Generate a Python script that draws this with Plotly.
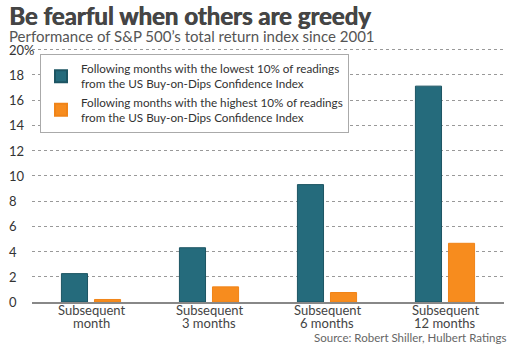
import plotly.graph_objects as go

categories = ["Subsequent<br>month", "Subsequent<br>3 months", "Subsequent<br>6 months", "Subsequent<br>12 months"]
lowest_vals = [2.25, 4.3, 9.3, 17.1]
highest_vals = [0.2, 1.2, 0.75, 4.65]
series_names = [
    "Following months with the lowest 10% of readings<br>from the US Buy-on-Dips Confidence Index",
    "Following months with the highest 10% of readings<br>from the US Buy-on-Dips Confidence Index",
]
y_tick_vals = [0, 2, 4, 6, 8, 10, 12, 14, 16, 18, 20]
y_tick_text = ["0", "2", "4", "6", "8", "10", "12", "14", "16", "18", "20%"]

TEAL = "#256B7C"
ORANGE = "#F78C1E"
FONT = "Lato"

fig = go.Figure()
fig.add_trace(go.Bar(x=categories, y=lowest_vals, name=series_names[0],
                     marker=dict(color=TEAL, line=dict(color="#1d5563", width=1))))
fig.add_trace(go.Bar(x=categories, y=highest_vals, name=series_names[1],
                     marker=dict(color=ORANGE, line=dict(color="#f08418", width=1))))

H = 345; W = 512
YMAX = 20.2
ml, mr, mb = 32, 8, 43
mt = (H - mb) - 252 * YMAX / 20.0
ph = H - mt - mb
pw = W - ml - mr
def py(pix):
    return (H - mb - pix) / ph
def px(pix):
    return (pix - ml) / pw

annotations = [
    dict(text="<b>Be fearful when others are greedy</b>", xref="paper", yref="paper",
         x=px(7), y=py(16), xanchor="left", yanchor="middle", showarrow=False,
         font=dict(family=FONT, size=24, color="#454545", shadow="0.7px 0px 0px #454545")),
    dict(text="Performance of S&P 500’s total return index since 2001", xref="paper", yref="paper",
         x=px(7), y=py(36.5), xanchor="left", yanchor="middle", showarrow=False,
         font=dict(family=FONT, size=15, color="#555555")),
    dict(text="Source: Robert Shiller, Hulbert Ratings", xref="paper", yref="paper",
         x=px(508), y=py(337), xanchor="right", yanchor="middle", showarrow=False,
         font=dict(family=FONT, size=11.5, color="#666666")),
]

for v, t in zip(y_tick_vals, y_tick_text):
    annotations.append(dict(text=t, xref="paper", yref="y", x=px(7), y=v,
                            xanchor="left", yanchor="middle", showarrow=False,
                            font=dict(family=FONT, size=13, color="#333333")))

# category labels: two tight lines each
for c in categories:
    lines = c.split("<br>")
    for i, ln in enumerate(lines):
        annotations.append(dict(text=ln, xref="x", yref="paper", x=c, y=py(310 + 12.5 * i),
                                xanchor="center", yanchor="middle", showarrow=False,
                                font=dict(family=FONT, size=13, color="#444444")))

fig.update_layout(
    width=W, height=H,
    margin=dict(l=ml, r=mr, t=mt, b=mb, pad=0),
    paper_bgcolor="white", plot_bgcolor="white",
    barmode="group", bargap=0.44, bargroupgap=0.21,
    font=dict(family=FONT, color="#444444"),
    showlegend=True,
    legend=dict(x=px(40), y=py(54), xanchor="left", yanchor="top",
                bgcolor="white", bordercolor="#aaaaaa", borderwidth=1,
                font=dict(family=FONT, size=11.7, color="#333333"),
                tracegroupgap=0, itemsizing="constant", itemwidth=30),
    annotations=annotations,
    xaxis=dict(showgrid=False, showline=True, linecolor="#888888", linewidth=1.5,
               ticks="", showticklabels=False),
    yaxis=dict(range=[0, YMAX], tickvals=y_tick_vals, showticklabels=False,
               showgrid=True, gridcolor="#999999", griddash="dot", gridwidth=1,
               zeroline=False, showline=False, fixedrange=True),
)

fig.write_html("out.html")
